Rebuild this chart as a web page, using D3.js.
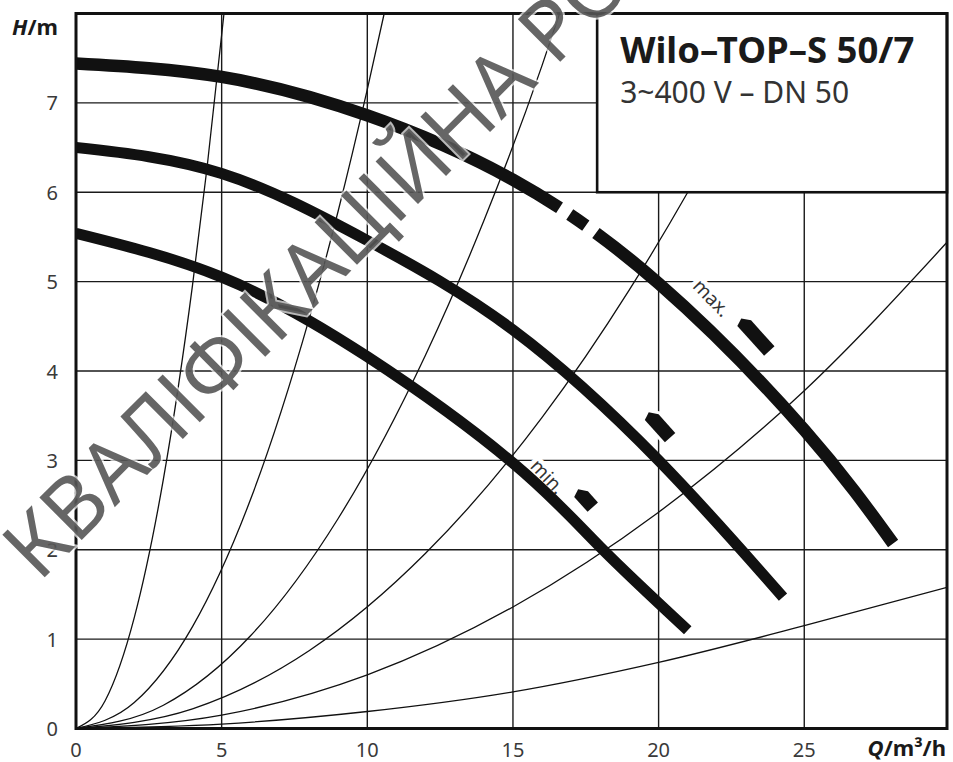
<!DOCTYPE html>
<html>
<head>
<meta charset="utf-8">
<script src="https://cdn.jsdelivr.net/npm/d3@7"></script>
<style>
body { margin: 0; background: #fff; }
text { font-family: "Noto Sans", sans-serif; }
</style>
</head>
<body>
<script>
const width = 953, height = 762;
const margin = {top: 13.5, right: 6, bottom: 33.5, left: 76};

const xTicks = [0, 5, 10, 15, 20, 25];
const yTicks = [0, 1, 2, 3, 4, 5, 6, 7];

// pump curves, [Q m3/h, H m]
const curveMax = [[0, 7.44], [5, 7.29], [10, 6.86], [15, 6.14], [20, 4.98], [25, 3.34], [28.05, 2.07]];
const curveMid = [[0, 6.50], [5, 6.21], [10, 5.46], [15, 4.46], [20, 3.0], [24.27, 1.47]];
const curveMin = [[0, 5.54], [5, 5.05], [10, 4.16], [15, 2.97], [18, 2.03], [21.0, 1.10]];
// where the max curve is broken near the box corner
const maxBreaks = [16.6, 16.95, 17.5, 17.85];

// system curves
const sys1 = [[0, 0], [1, 0.31], [2, 1.24], [3, 2.79], [4, 4.96], [4.5, 6.28], [5.08, 8]];
const sys2 = [[0, 0], [2, 0.29], [4, 1.14], [6, 2.57], [8, 4.58], [9, 5.79], [10, 7.15], [10.58, 8]];
const sys3 = [[0, 0], [3, 0.26], [6, 1.04], [9, 2.35], [12, 4.18], [14, 5.68], [16, 7.42], [16.6, 8]];
const sys4 = [[0, 0], [4, 0.22], [8, 0.87], [12, 1.96], [16, 3.48], [19, 4.91], [21, 6.0], [24.25, 8]];
const sys5 = [[0, 0], [5, 0.15], [10, 0.6], [15, 1.36], [20, 2.42], [25, 3.78], [29.9, 5.44]];
const sys6 = [[0, 0], [5, 0.05], [10, 0.19], [15, 0.41], [20, 0.74], [25, 1.15], [29.9, 1.58]];
const systemCurves = [sys1, sys2, sys3, sys4, sys5, sys6];

const markers = [{q: 23.34, h: 4.39, len: 40}, {q: 20.05, h: 3.38, len: 30}, {q: 17.51, h: 2.56, len: 20}];
const labels = [{text: "max.", q: 21.83, h: 4.82}, {text: "min.", q: 16.2, h: 2.82}];

const title = "Wilo–TOP–S 50/7";
const subtitle = "3~400 V – DN 50";

const svg = d3.select('body')
  .append('svg')
  .attr('width', width)
  .attr('height', height);

const x = d3.scaleLinear().domain([0, 29.9]).range([margin.left, width - margin.right]);
const y = d3.scaleLinear().domain([0, 8]).range([height - margin.bottom, margin.top]);

svg.append('clipPath').attr('id', 'plot')
  .append('rect')
  .attr('x', x(0)).attr('y', y(8))
  .attr('width', x(29.9) - x(0)).attr('height', y(0) - y(8));

// grid
const grid = svg.append('g').attr('stroke', '#1a1a1a').attr('stroke-width', 1.4);
grid.selectAll('line.v').data(xTicks.slice(1)).join('line')
  .attr('x1', d => x(d)).attr('x2', d => x(d))
  .attr('y1', y(0)).attr('y2', y(8));
grid.selectAll('line.h').data(yTicks.slice(1)).join('line')
  .attr('x1', x(0)).attr('x2', x(29.9))
  .attr('y1', d => y(d)).attr('y2', d => y(d));

const plot = svg.append('g').attr('clip-path', 'url(#plot)');

const sysLine = d3.line().x(d => x(d[0])).y(d => y(d[1])).curve(d3.curveMonotoneX);
plot.selectAll('path.sys').data(systemCurves).join('path')
  .attr('class', 'sys')
  .attr('d', sysLine)
  .attr('fill', 'none')
  .attr('stroke', '#111')
  .attr('stroke-width', 1.3);

// labels with white halo
plot.selectAll('text.lab').data(labels).join('text')
  .attr('class', 'lab')
  .attr('transform', d => `translate(${x(d.q)},${y(d.h)}) rotate(46)`)
  .attr('text-anchor', 'middle')
  .attr('dominant-baseline', 'central')
  .attr('font-size', 19)
  .attr('fill', '#333')
  .attr('stroke', '#fff')
  .attr('stroke-width', 9)
  .attr('paint-order', 'stroke')
  .text(d => d.text);

// speed markers
const ang = 48 * Math.PI / 180;
const du = [Math.cos(ang), Math.sin(ang)], nv = [-Math.sin(ang), Math.cos(ang)];
function markerPts(d) {
  const cx = x(d.q), cy = y(d.h), L = d.len / 2, W = 7;
  const p = (a, b) => [cx + du[0] * a + nv[0] * b, cy + du[1] * a + nv[1] * b];
  return [p(L, -W), p(L, W), p(-L, W), p(-L - 3, -1), p(-L + 5, -W)];
}
plot.selectAll('polygon.mk').data(markers).join('polygon')
  .attr('points', d => markerPts(d).join(' '))
  .attr('fill', '#111')
  .attr('stroke', '#fff')
  .attr('stroke-width', 6)
  .attr('paint-order', 'stroke')
  .attr('stroke-linejoin', 'round');

// pump curves
const pumpLine = d3.line().x(d => x(d[0])).y(d => y(d[1])).curve(d3.curveNatural);
const pumps = [{data: curveMin, w: 11}, {data: curveMid, w: 11}, {data: curveMax, w: 12.5}];
const pumpPaths = plot.selectAll('path.pump').data(pumps).join('path')
  .attr('class', 'pump')
  .attr('d', d => pumpLine(d.data))
  .attr('fill', 'none')
  .attr('stroke', '#111')
  .attr('stroke-width', d => d.w);

// broken segment of max curve
const maxNode = pumpPaths.nodes()[2];
const total = maxNode.getTotalLength();
function lengthAt(q) {
  const px = x(q);
  let lo = 0, hi = total;
  for (let i = 0; i < 40; i++) {
    const mid = (lo + hi) / 2;
    if (maxNode.getPointAtLength(mid).x < px) lo = mid; else hi = mid;
  }
  return lo;
}
const ls = maxBreaks.map(lengthAt);
d3.select(maxNode).attr('stroke-dasharray',
  [ls[0], ls[1] - ls[0], ls[2] - ls[1], ls[3] - ls[2], total].join(' '));

// title box
const box = svg.append('g');
box.append('rect')
  .attr('x', x(17.89)).attr('y', y(8))
  .attr('width', x(29.9) - x(17.89)).attr('height', y(6) - y(8))
  .attr('fill', '#fff').attr('stroke', '#111').attr('stroke-width', 2.6);
box.append('text')
  .attr('x', x(17.89) + 23).attr('y', 63)
  .attr('font-size', 36.5).attr('font-weight', 700).attr('fill', '#1a1a1a')
  .text(title);
box.append('text')
  .attr('x', x(17.89) + 23).attr('y', 103)
  .attr('font-size', 30).attr('fill', '#333')
  .text(subtitle);

// frame
svg.append('rect')
  .attr('x', x(0)).attr('y', y(8))
  .attr('width', x(29.9) - x(0)).attr('height', y(0) - y(8))
  .attr('fill', 'none').attr('stroke', '#111').attr('stroke-width', 3);

// tick labels
svg.append('g').selectAll('text').data(xTicks).join('text')
  .attr('x', d => x(d)).attr('y', 757)
  .attr('text-anchor', 'middle').attr('font-size', 20).attr('fill', '#3a3a3a')
  .text(d => d);
svg.append('g').selectAll('text').data(yTicks).join('text')
  .attr('x', 58).attr('y', d => y(d))
  .attr('text-anchor', 'end').attr('dominant-baseline', 'central')
  .attr('font-size', 20).attr('fill', '#3a3a3a')
  .text(d => d);

// axis titles
const hTitle = svg.append('text').attr('x', 12).attr('y', 35)
  .attr('font-size', 22).attr('font-weight', 700).attr('fill', '#1a1a1a');
hTitle.append('tspan').attr('font-style', 'italic').text('H');
hTitle.append('tspan').text('/m');
const qTitle = svg.append('text').attr('x', 946).attr('y', 756).attr('text-anchor', 'end')
  .attr('font-size', 22).attr('font-weight', 700).attr('fill', '#1a1a1a');
qTitle.append('tspan').attr('font-style', 'italic').text('Q');
qTitle.append('tspan').text('/m³/h');

// watermark
svg.append('text')
  .attr('transform', 'translate(16,560) rotate(-45)')
  .attr('dominant-baseline', 'central')
  .attr('font-size', 84)
  .attr('fill', '#555')
  .attr('fill-opacity', 0.9)
  .attr('stroke', '#fff')
  .attr('stroke-opacity', 0.7)
  .attr('stroke-width', 4)
  .attr('paint-order', 'stroke')
  .text('КВАЛІФІКАЦІЙНА РОБОТА');
</script>
</body>
</html>
